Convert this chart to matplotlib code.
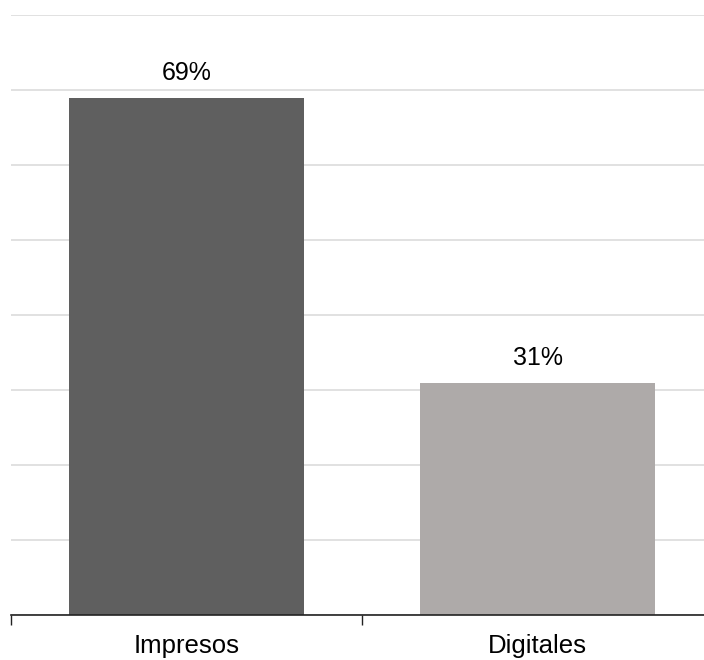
import matplotlib.pyplot as plt

categorias = ["Impresos", "Digitales"]
porcentajes = [69, 31]
colores = ["#5f5f5f", "#aeaaa9"]

plt.rcParams["font.family"] = ["Liberation Sans", "DejaVu Sans"]

fig = plt.figure(figsize=(7.04, 6.6), dpi=100)
W, H = 704, 660
# eje algo más ancho que la figura, el borde derecho queda fuera
ax = fig.add_axes([11 / W, (H - 615) / H, 702 / W, 600 / H])

x = range(len(categorias))
bars = ax.bar(x, porcentajes, width=0.67, color=colores, zorder=2)

for b, v in zip(bars, porcentajes):
    ax.annotate(f"{v}%", (b.get_x() + b.get_width() / 2, v),
                xytext=(0, 9), textcoords="offset points",
                ha="center", va="bottom", fontsize=18, color="#000000")

ax.set_xlim(-0.5, 1.5)
ax.set_ylim(0, 80)
ax.set_yticks(range(0, 81, 10))
ax.yaxis.grid(True, color="#d9d9d9", linewidth=1.1, zorder=0)
ax.tick_params(axis="y", length=0, labelleft=False)

ax.set_xticks([-0.5, 0.5, 1.5], minor=False)
ax.set_xticklabels([])
ax.set_xticks(list(x), minor=True)
ax.set_xticklabels(categorias, minor=True, fontsize=18.5, color="#000000")
ax.tick_params(axis="x", which="major", direction="out", length=7,
               width=1, color="#222222")
ax.tick_params(axis="x", which="minor", length=0, pad=14)

for s in ["top", "right", "left"]:
    ax.spines[s].set_visible(False)
ax.spines["bottom"].set_color("#222222")
ax.spines["bottom"].set_linewidth(1.2)
ax.spines["bottom"].set_zorder(3)

fig.savefig("out.png", dpi=100)
